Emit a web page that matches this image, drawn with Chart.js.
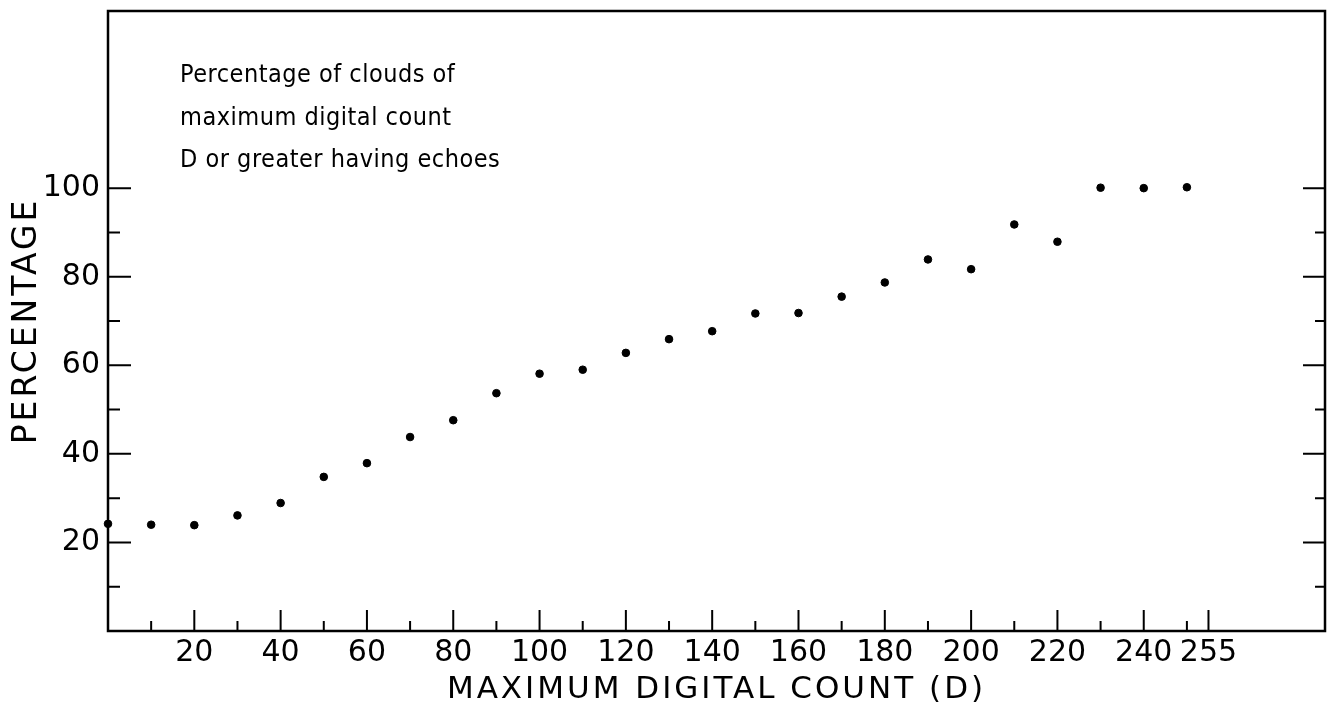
<!DOCTYPE html>
<html>
<head>
<meta charset="utf-8">
<script src="https://cdn.jsdelivr.net/npm/chart.js@4/dist/chart.umd.min.js"></script>
<style>
  body { margin: 0; background: #fff; }
  #wrap { width: 1335px; height: 707px; }
</style>
</head>
<body>
<div id="wrap"><canvas id="echoes" width="1335" height="707"></canvas></div>
<script>
// maximum digital count D
var counts = [0, 10, 20, 30, 40, 50, 60, 70, 80, 90, 100, 110, 120, 130, 140, 150, 160, 170, 180, 190, 200, 210, 220, 230, 240, 250];
// percentage of clouds with count >= D having echoes
var percents = [24.2, 24.0, 23.9, 26.1, 28.9, 34.8, 37.9, 43.8, 47.6, 53.7, 58.1, 59.0, 62.8, 65.9, 67.7, 71.7, 71.8, 75.5, 78.7, 83.9, 81.7, 91.8, 87.9, 100.1, 100, 100.2];

var xTicks = [10, 20, 30, 40, 50, 60, 70, 80, 90, 100, 110, 120, 130, 140, 150, 160, 170, 180, 190, 200, 210, 220, 230, 240, 250, 255];
var xLabels = ['20', '40', '60', '80', '100', '120', '140', '160', '180', '200', '220', '240', '255'];
var yTicks = [10, 20, 30, 40, 50, 60, 70, 80, 90, 100];
var yLabels = ['20', '40', '60', '80', '100'];

var note = ['Percentage of clouds of', 'maximum digital count', 'D or greater having echoes'];
var xTitle = 'MAXIMUM DIGITAL COUNT (D)';
var yTitle = 'PERCENTAGE';

var ink = '#000';

// frame, inward ticks, titles and the note
var paperPlugin = {
	id: 'paper',
	afterDraw: function(chart) {
		var ctx = chart.ctx;
		var a = chart.chartArea;
		var xs = chart.scales.x, ys = chart.scales.y;
		ctx.save();
		ctx.strokeStyle = ink;
		ctx.lineWidth = 2.5;
		ctx.strokeRect(a.left, a.top, a.right - a.left, a.bottom - a.top);

		ctx.lineWidth = 2;
		ctx.beginPath();
		xTicks.forEach(function(v) {
			var px = xs.getPixelForValue(v);
			var len = xLabels.indexOf(String(v)) >= 0 ? 21 : 10;
			ctx.moveTo(px, a.bottom);
			ctx.lineTo(px, a.bottom - len);
		});
		yTicks.forEach(function(v) {
			var py = ys.getPixelForValue(v);
			var major = yLabels.indexOf(String(v)) >= 0;
			ctx.moveTo(a.left, py);
			ctx.lineTo(a.left + (major ? 23 : 12), py);
			ctx.moveTo(a.right, py);
			ctx.lineTo(a.right - (major ? 22 : 10), py);
		});
		ctx.stroke();

		ctx.fillStyle = ink;
		ctx.letterSpacing = '3px';
		ctx.font = '31px "DejaVu Sans"';
		ctx.textAlign = 'center';
		ctx.textBaseline = 'middle';
		ctx.fillText(xTitle, (a.left + a.right) / 2, 690);

		ctx.save();
		ctx.font = '33px "DejaVu Sans"';
		ctx.translate(27, (a.top + a.bottom) / 2);
		ctx.rotate(-Math.PI / 2);
		ctx.fillText(yTitle, 0, 0);
		ctx.restore();

		ctx.letterSpacing = '0.5px';
		ctx.font = '25px "DejaVu Sans Condensed", "DejaVu Sans"';
		ctx.textAlign = 'left';
		ctx.textBaseline = 'alphabetic';
		note.forEach(function(line, i) {
			ctx.fillText(line, 180, 82 + i * 42.5);
		});
		ctx.restore();
	}
};

var ctx = document.getElementById('echoes').getContext('2d');
var echoChart = new Chart(ctx, {
	type: 'scatter',
	data: {
		datasets: [{
			data: counts.map(function(c, i) { return { x: c, y: percents[i] }; }),
			backgroundColor: ink,
			borderColor: ink,
			pointRadius: 3.8,
			pointHoverRadius: 3.8,
			clip: false
		}]
	},
	options: {
		responsive: false,
		animation: false,
		layout: { padding: { top: 11, right: 10, left: 0, bottom: 0 } },
		plugins: {
			legend: { display: false },
			tooltip: { enabled: false }
		},
		scales: {
			x: {
				type: 'linear',
				min: 0,
				max: 282,
				afterFit: function(s) {
					s.height = 76;
					s.paddingLeft = 0;
					s.paddingRight = 0;
				},
				afterBuildTicks: function(s) {
					s.ticks = xTicks.map(function(v) { return { value: v }; });
				},
				grid: { display: false, drawTicks: false },
				border: { display: false },
				ticks: {
					autoSkip: false,
					maxRotation: 0,
					padding: 4,
					color: ink,
					font: { family: 'DejaVu Sans', size: 30 },
					callback: function(v) {
						return xLabels.indexOf(String(v)) >= 0 ? String(v) : '';
					}
				}
			},
			y: {
				type: 'linear',
				min: 0,
				max: 140,
				afterFit: function(s) {
					s.width = 108;
					s.paddingTop = 0;
					s.paddingBottom = 0;
				},
				afterBuildTicks: function(s) {
					s.ticks = yTicks.map(function(v) { return { value: v }; });
				},
				grid: { display: false, drawTicks: false },
				border: { display: false },
				ticks: {
					autoSkip: false,
					padding: 8,
					color: ink,
					font: { family: 'DejaVu Sans', size: 30 },
					callback: function(v) {
						return yLabels.indexOf(String(v)) >= 0 ? String(v) : '';
					}
				}
			}
		}
	},
	plugins: [paperPlugin]
});
</script>
</body>
</html>
